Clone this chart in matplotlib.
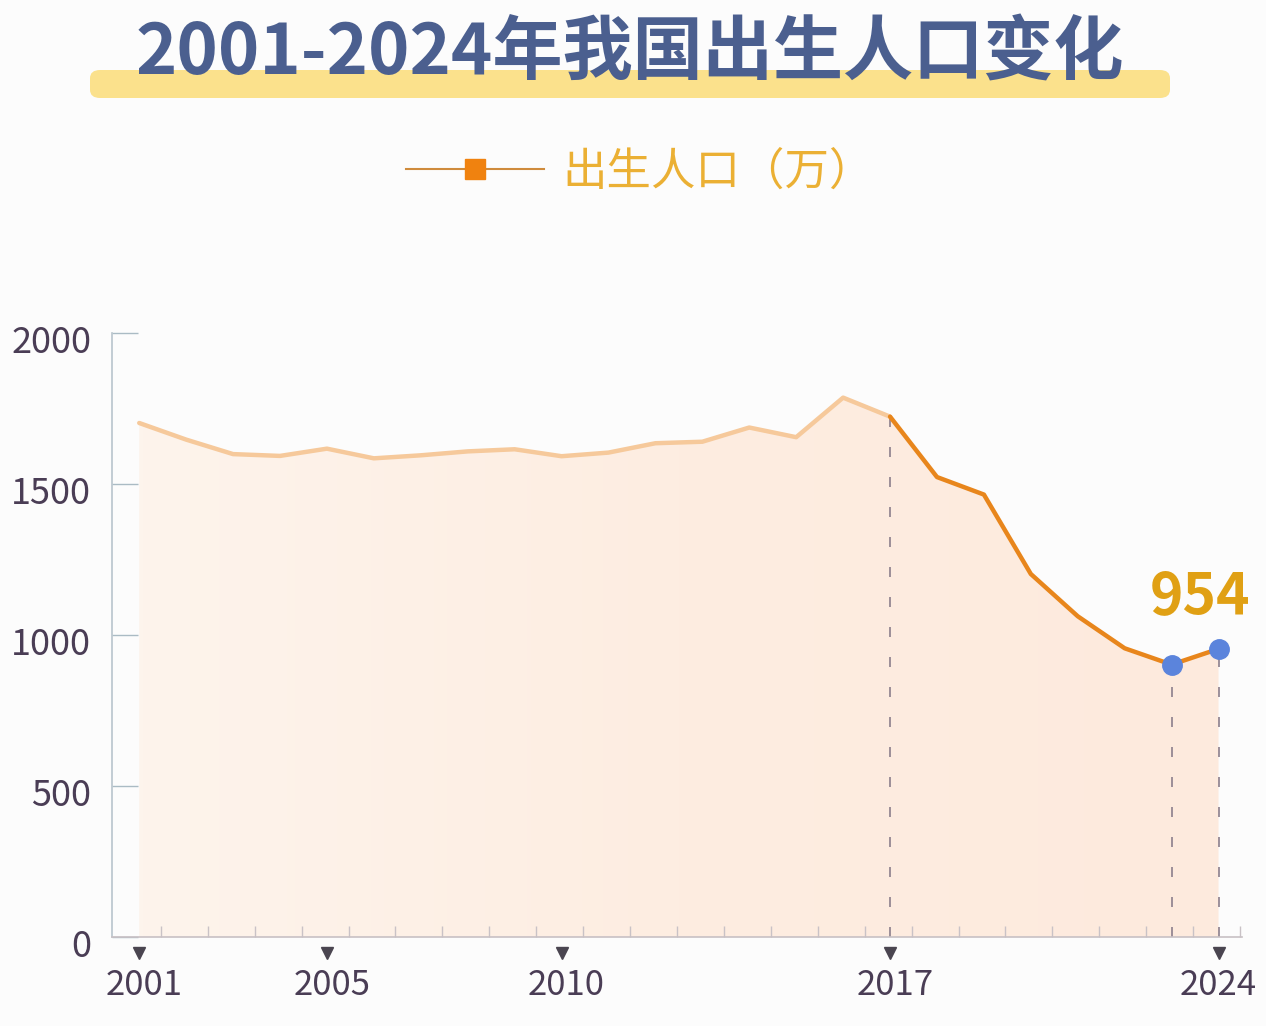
import numpy as np
import matplotlib.pyplot as plt
from matplotlib.lines import Line2D
from matplotlib.patches import FancyBboxPatch
from matplotlib.colors import LinearSegmentedColormap
from matplotlib.transforms import ScaledTranslation

plt.rcParams['font.family'] = ['Noto Sans CJK SC', 'DejaVu Sans']

# data: births in China, unit 10k people
years = list(range(2001, 2025))
births = [1702, 1647, 1599, 1593, 1617, 1585, 1595, 1608, 1615, 1592,
          1604, 1635, 1640, 1687, 1655, 1786, 1723, 1523, 1465, 1202,
          1062, 956, 902, 954]
label_years = [2001, 2005, 2010, 2017, 2024]
yticks = [0, 500, 1000, 1500, 2000]
split_year = 2017
dot_years = [2023, 2024]
title = '2001-2024年我国出生人口变化'
legend_label = '出生人口（万）'

W, H = 1266, 1026
fig = plt.figure(figsize=(W / 100, H / 100), dpi=100)
fig.patch.set_facecolor('#fcfcfc')

# title with yellow highlight bar
bar = FancyBboxPatch((90 / W, 1 - 98 / H), 1080 / W, 28 / H,
                     boxstyle='round,pad=0,rounding_size=0.008',
                     transform=fig.transFigure, facecolor='#fbe18c',
                     edgecolor='none', zorder=1)
fig.patches.append(bar)
fig.text(630 / W, 1 - 54 / H, title, ha='center', va='center',
         fontsize=50.5, fontweight='bold', color='#4b5f8f', zorder=2)

ax = fig.add_axes([112 / W, 1 - 937 / H, 1130 / W, 604 / H])
ax.set_facecolor('none')
ax.set_xlim(2000.42, 2024.5)
ax.set_ylim(0, 2000)

# gradient fill under curve
poly = ax.fill_between(years, births, 0, color='none', lw=0)
cmap = LinearSegmentedColormap.from_list('fill', ['#fdf4ec', '#fdede1', '#fdeadd'])
grad = np.linspace(0, 1, 256).reshape(1, -1)
img = ax.imshow(grad, extent=[2001, 2024, 0, 2000], aspect='auto',
                cmap=cmap, origin='lower', zorder=0)
img.set_clip_path(poly.get_paths()[0], transform=ax.transData)

i = years.index(split_year)
ax.plot(years[:i + 1], births[:i + 1], color='#f6c99b', lw=3.2,
        solid_joinstyle='round', solid_capstyle='round', zorder=3)
ax.plot(years[i:], births[i:], color='#e8861c', lw=3.2,
        solid_joinstyle='round', solid_capstyle='round', zorder=3)

# dashed drop lines
vl = [split_year] + dot_years
ax.vlines(vl, 0, [births[years.index(y)] for y in vl], colors='#8c7e8c',
          linestyles=(0, (6, 12)), lw=1.2, zorder=2)

dots_y = [births[years.index(y)] for y in dot_years]
ax.plot(dot_years, dots_y, 'o', color='#5b84dc', ms=14, zorder=4)
ax.annotate(str(births[-1]), (dot_years[-1], dots_y[-1]),
            xytext=(-13, 37), textcoords='offset points', ha='center',
            va='center', fontsize=41, fontweight='bold', color='#e0a014')

# axes styling
for s in ['top', 'right']:
    ax.spines[s].set_visible(False)
ax.spines['left'].set_color('#b8c4cc')
ax.spines['bottom'].set_color('#c8c0c4')
ax.spines['left'].set_linewidth(1.2)
ax.spines['bottom'].set_linewidth(1.2)

ax.set_yticks(yticks)
ax.set_yticklabels([str(v) for v in yticks])
ax.tick_params(axis='y', direction='in', length=19, width=1, color='#aabbc4',
               labelsize=26, labelcolor='#4a3d55', pad=15)
ax.set_xticks(label_years)
ax.set_xticklabels([str(v) for v in label_years])
ax.tick_params(axis='x', which='major', length=0, labelsize=25,
               labelcolor='#4a3d55', pad=22)
ax.set_xticks(np.arange(2001.46, 2025, 1.0), minor=True)
ax.tick_params(axis='x', which='minor', direction='in', length=8,
               width=1, color='#c9c2c6')
shift_down = ScaledTranslation(0, -6 / 100, fig.dpi_scale_trans)
for lab in ax.get_yticklabels():
    lab.set_transform(lab.get_transform() + shift_down)
shift_right = ScaledTranslation(5 / 100, 0, fig.dpi_scale_trans)
for lab in ax.get_xticklabels()[:-1]:
    lab.set_transform(lab.get_transform() + shift_right)

# triangle markers under labelled years
ax.plot(label_years, [-0.026] * len(label_years), 'v', color='#4a4550', ms=8,
        transform=ax.get_xaxis_transform(), clip_on=False, zorder=5)

# legend
handle = Line2D([], [], color='#cf8b3c', lw=1.5, marker='s', ms=15,
                markerfacecolor='#f0820f', markeredgecolor='#f0820f')
leg = fig.legend([handle], [legend_label], loc='center',
                 bbox_to_anchor=(640 / W, 1 - 172 / H), frameon=False,
                 fontsize=32, handlelength=3.1, handletextpad=0.4)
for t in leg.get_texts():
    t.set_color('#ebb034')

fig.savefig('out.png', dpi=100, facecolor=fig.get_facecolor())
